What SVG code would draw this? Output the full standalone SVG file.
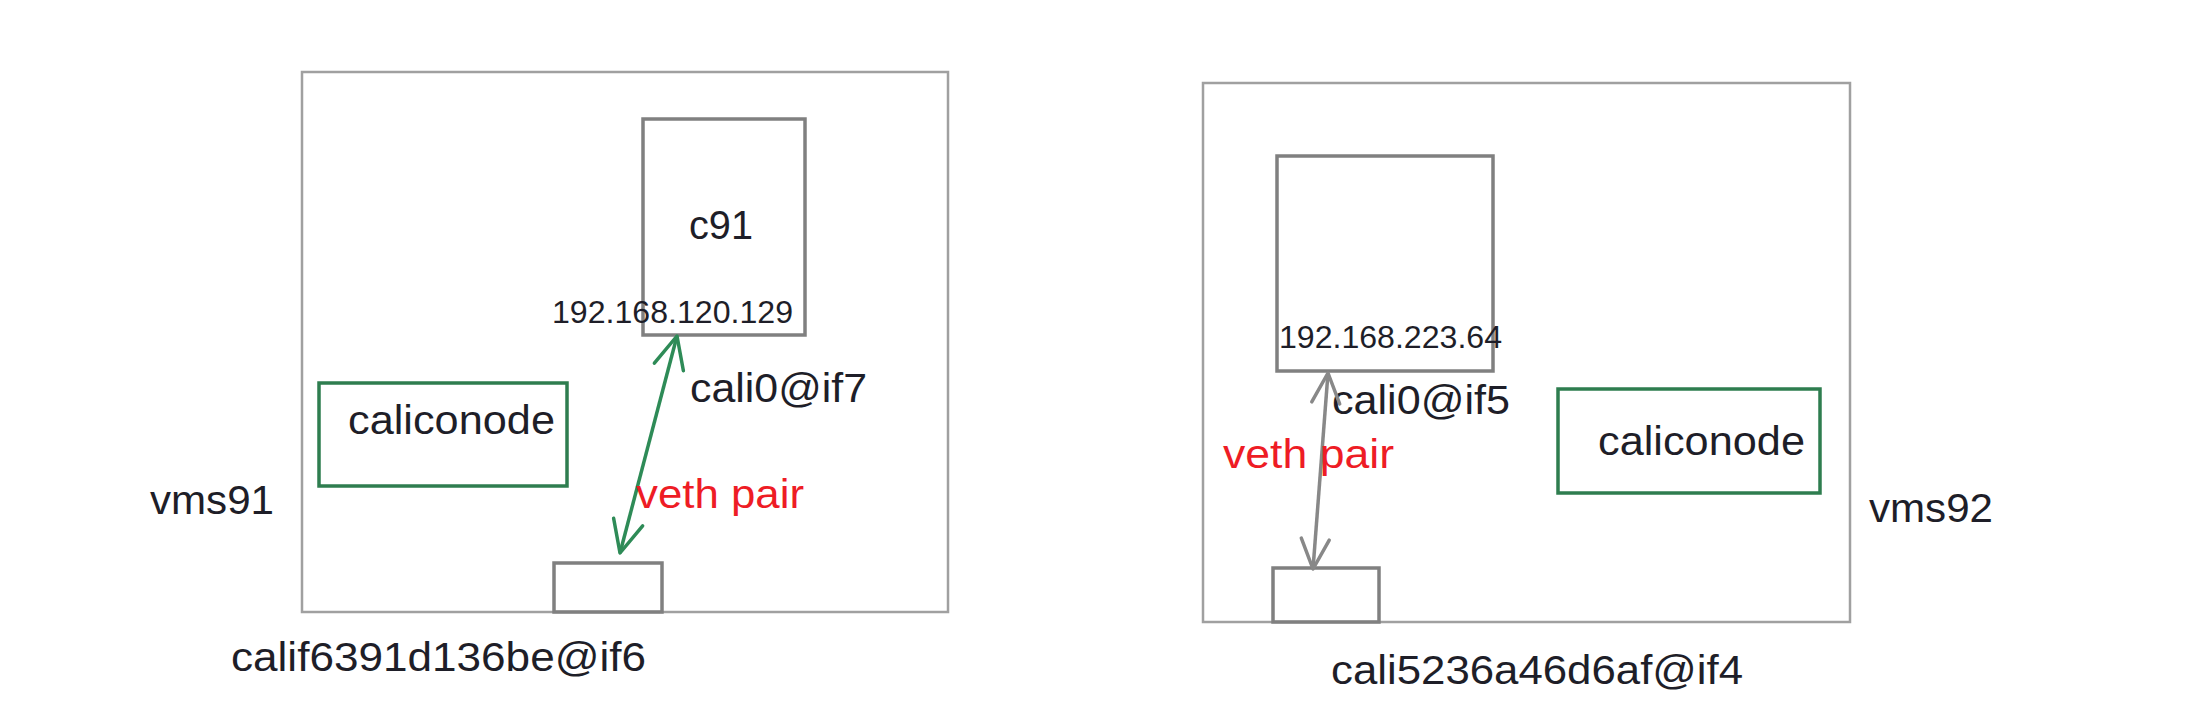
<svg xmlns="http://www.w3.org/2000/svg" width="2190" height="728" viewBox="0 0 2190 728">
  <style>
    .host { fill: none; stroke: #a0a0a0; stroke-width: 2.5; }
    .box { fill: none; stroke: #808080; stroke-width: 3.5; }
    .calico { fill: none; stroke: #2e7d4f; stroke-width: 3.5; }
    .t { font-family: "Liberation Sans", Arial, sans-serif; font-size: 40px; fill: #1e1e28; }
    .ip { font-family: "Liberation Sans", Arial, sans-serif; font-size: 31px; fill: #1e1e28; }
    .red { font-family: "Liberation Sans", Arial, sans-serif; font-size: 40px; fill: #ee1c25; }
  </style>
  <defs>
    <marker id="ag" viewBox="-40 -22 46 44" markerWidth="46" markerHeight="44" refX="0" refY="0" markerUnits="userSpaceOnUse" orient="auto-start-reverse">
      <path d="M -32 -15 L 0 0 L -32 15" fill="none" stroke="#2e8b57" stroke-width="3.5" stroke-linecap="round" stroke-linejoin="round"/>
    </marker>
    <marker id="ay" viewBox="-40 -22 46 44" markerWidth="46" markerHeight="44" refX="0" refY="0" markerUnits="userSpaceOnUse" orient="auto-start-reverse">
      <path d="M -30 -14 L 0 0 L -30 14" fill="none" stroke="#888888" stroke-width="3.5" stroke-linecap="round" stroke-linejoin="round"/>
    </marker>
  </defs>

  <g id="vms91">
    <rect class="host" x="302" y="72" width="646" height="540"/>
    <text class="t" x="150" y="514" textLength="124" lengthAdjust="spacingAndGlyphs">vms91</text>
  </g>
  <g id="c91">
    <rect class="box" x="643" y="119" width="162" height="216"/>
    <text class="t" x="689" y="239" textLength="64" lengthAdjust="spacingAndGlyphs">c91</text>
    <text class="ip" x="552" y="323" textLength="241" lengthAdjust="spacingAndGlyphs">192.168.120.129</text>
  </g>
  <g id="caliconode91">
    <rect class="calico" x="319" y="383" width="248" height="103"/>
    <text class="t" x="348" y="434" textLength="207" lengthAdjust="spacingAndGlyphs">caliconode</text>
  </g>
  <g id="calif6391d136be">
    <rect class="box" x="554" y="563" width="108" height="49"/>
    <text class="t" x="231" y="671" textLength="415" lengthAdjust="spacingAndGlyphs">calif6391d136be@if6</text>
  </g>
  <g id="cali0if7">
    <text class="t" x="690" y="402" textLength="177" lengthAdjust="spacingAndGlyphs">cali0@if7</text>
  </g>

  <g id="vms92">
    <rect class="host" x="1203" y="83" width="647" height="539"/>
    <text class="t" x="1869" y="522" textLength="124" lengthAdjust="spacingAndGlyphs">vms92</text>
  </g>
  <g id="c92">
    <rect class="box" x="1277" y="156" width="216" height="215"/>
    <text class="ip" x="1279" y="348" textLength="223" lengthAdjust="spacingAndGlyphs">192.168.223.64</text>
  </g>
  <g id="caliconode92">
    <rect class="calico" x="1558" y="389" width="262" height="104"/>
    <text class="t" x="1598" y="455" textLength="207" lengthAdjust="spacingAndGlyphs">caliconode</text>
  </g>
  <g id="cali5236a46d6af">
    <rect class="box" x="1273" y="568" width="106" height="54"/>
    <text class="t" x="1331" y="684" textLength="412" lengthAdjust="spacingAndGlyphs">cali5236a46d6af@if4</text>
  </g>
  <g id="cali0if5">
    <text class="t" x="1332" y="414" textLength="178" lengthAdjust="spacingAndGlyphs">cali0@if5</text>
  </g>

  <g id="connectors">
    <line x1="677" y1="336" x2="620" y2="553" stroke="#2e8b57" stroke-width="3.5" marker-start="url(#ag)" marker-end="url(#ag)"/>
    <text class="red" x="636" y="508" textLength="168" lengthAdjust="spacingAndGlyphs">veth pair</text>
    <line x1="1328" y1="373" x2="1313" y2="569" stroke="#888888" stroke-width="3.5" marker-start="url(#ay)" marker-end="url(#ay)"/>
    <text class="red" x="1223" y="468" textLength="171" lengthAdjust="spacingAndGlyphs">veth pair</text>
  </g>
</svg>
